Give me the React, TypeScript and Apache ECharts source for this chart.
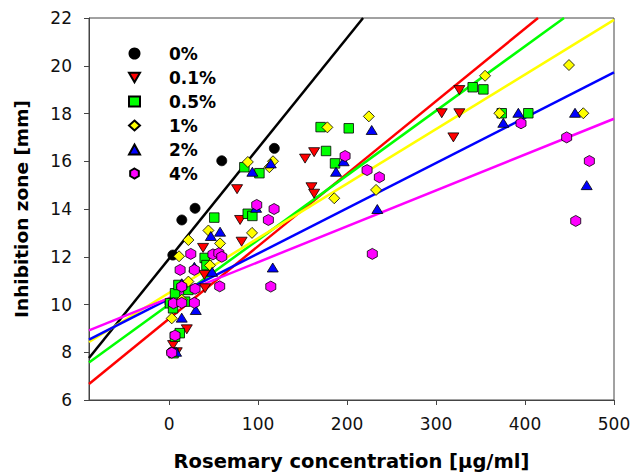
import React, { useEffect, useRef } from "react";
import * as echarts from "echarts";

// ---- data ----
const seriesNames = ["0%", "0.1%", "0.5%", "1%", "2%", "4%"];
const xTicks = [0, 100, 200, 300, 400, 500];

const conc0 = [[1, 10.06], [3, 8.0], [4.2, 12.07], [14.3, 13.54], [29.2, 14.03], [59.2, 16.02], [118.3, 16.54]];
const conc01 = [[4.5, 8.3], [8.6, 8.0], [19.9, 8.96], [40.4, 10.68], [39.7, 11.24], [38.2, 12.37], [76.4, 14.83], [79.8, 13.54], [81.5, 12.63], [152.8, 16.11], [163, 16.38], [160, 14.91], [163, 14.64], [306.4, 18.01], [326.2, 18.01], [326.2, 18.98], [319.5, 17.0]];
const conc05 = [[5, 7.96], [6.7, 8.65], [12, 8.8], [1, 10.05], [4.5, 9.84], [18, 10.12], [6.7, 10.47], [10.5, 10.82], [21.7, 10.61], [40, 11.95], [42, 11.65], [50.8, 13.64], [84.6, 15.75], [101.5, 15.5], [88.4, 13.8], [93.6, 13.71], [170.3, 17.43], [201.9, 17.38], [176.4, 16.43], [186.5, 15.91], [341.2, 19.1], [353.2, 19.01], [373.8, 18.01], [403.7, 18.01]];
const conc1 = [[3, 9.42], [14.2, 10.2], [21.7, 10.96], [11.2, 12.02], [21.7, 12.7], [46, 11.64], [44.2, 13.1], [57.3, 12.56], [88.5, 15.97], [93.2, 13.0], [112.7, 15.75], [116.8, 16.0], [177.9, 17.42], [185.6, 14.45], [224.5, 17.88], [232.6, 14.8], [355.1, 19.58], [371.2, 18.01], [449.4, 20.03], [465.5, 18.01]];
const conc2 = [[7.9, 8.02], [14.2, 9.45], [30, 9.77], [14.2, 10.89], [28.4, 11.58], [48.4, 11.37], [46.9, 12.87], [57.3, 13.05], [93.6, 15.56], [114.3, 15.91], [97.8, 14.05], [116.5, 11.55], [187.6, 15.56], [196.2, 16.0], [227.7, 17.31], [234, 14.0], [375.6, 17.61], [392.5, 18.03], [456.2, 18.03], [469.3, 15.0]];
const conc4 = [[3, 7.98], [6.7, 8.7], [4.9, 10.05], [14.2, 10.07], [28.4, 10.07], [14.2, 10.75], [29.2, 10.66], [12.4, 11.45], [28.4, 11.45], [24.4, 12.12], [49.3, 12.1], [55.9, 12.15], [59.2, 12.0], [56.9, 10.76], [98.5, 14.17], [118, 14.0], [111.6, 13.54], [114.3, 10.75], [197.8, 16.22], [222.5, 15.63], [236.3, 15.33], [228.4, 12.12], [395.5, 17.59], [446.8, 17.0], [472.3, 16.01], [457, 13.5]];

// regression lines (end points)
const fit0 = [[-90, 7.76], [218, 22]];
const fit01 = [[-90, 6.67], [414.6, 22]];
const fit05 = [[-90, 7.57], [443.8, 22]];
const fit1 = [[-90, 8.43], [500, 21.92]];
const fit2 = [[-90, 8.53], [500, 19.72]];
const fit4 = [[-90, 8.92], [500, 17.78]];

const pointSets = [conc0, conc01, conc05, conc1, conc2, conc4];
const fitSets = [fit0, fit01, fit05, fit1, fit2, fit4];

// ---- styles ----
const colors = ["#000000", "#ff0000", "#00ff00", "#ffff00", "#0000ff", "#ff00ff"];
const HEX = "path://M0,-1L0.866,-0.5L0.866,0.5L0,1L-0.866,0.5L-0.866,-0.5Z";
const TRI_DOWN = "path://M-1,-0.85L1,-0.85L0,0.85Z";
const symbols = ["circle", TRI_DOWN, "rect", "diamond", "triangle", HEX];
const symbolSizes: any[] = [10, [11, 9], 9.5, 11, [11, 9], [10, 11]];
const FONT = "DejaVu Sans";

export default function App() {
  const ref = useRef<HTMLDivElement>(null);
  useEffect(() => {
    if (!ref.current) return;
    const chart = echarts.init(ref.current, null, { renderer: "svg" });
    const lineSeries = fitSets.map((d, i) => ({
      type: "line",
      name: "fit " + seriesNames[i],
      data: d,
      showSymbol: false,
      symbol: "none",
      z: 2,
      lineStyle: { color: colors[i], width: 2.5 },
      itemStyle: { color: colors[i] },
    }));
    const scatterSeries = pointSets.map((d, i) => ({
      type: "scatter",
      name: seriesNames[i],
      data: d,
      symbol: symbols[i],
      symbolSize: symbolSizes[i],
      symbolKeepAspect: false,
      z: 3 + i,
      itemStyle: { color: colors[i], borderColor: "#000", borderWidth: 0.8, opacity: 1 },
    }));
    chart.setOption({
      animation: false,
      backgroundColor: "#fff",
      grid: {
        left: 89, right: 18, top: 18, bottom: 73,
        show: true, borderColor: "#444", borderWidth: 1, containLabel: false,
        outerBoundsMode: "none",
      },
      legend: {
        data: seriesNames,
        orient: "vertical",
        left: 128,
        top: 45,
        padding: 0,
        itemWidth: 11,
        itemHeight: 10,
        itemGap: 7,
        textStyle: { fontFamily: FONT, fontSize: 17, fontWeight: "bold", color: "#000", lineHeight: 13, padding: [0, 0, 0, 24] },
      },
      xAxis: {
        type: "value",
        min: -90,
        max: 500,
        name: "Rosemary concentration [µg/ml]",
        nameLocation: "middle",
        nameGap: 51,
        nameTextStyle: { fontFamily: FONT, fontSize: 19.5, fontWeight: "bold", color: "#000" },
        axisLine: { onZero: false, lineStyle: { color: "#444", width: 1 } },
        axisTick: { show: true, length: 5, inside: false, customValues: xTicks, lineStyle: { color: "#444" } },
        axisLabel: { customValues: xTicks, margin: 15, fontFamily: FONT, fontSize: 17, color: "#111" },
        splitLine: { show: false },
      },
      yAxis: {
        type: "value",
        min: 6,
        max: 22,
        interval: 2,
        name: "Inhibition zone [mm]",
        nameLocation: "middle",
        nameGap: 58,
        nameTextStyle: { fontFamily: FONT, fontSize: 18.5, fontWeight: "bold", color: "#000" },
        axisLine: { show: true, onZero: false, lineStyle: { color: "#444", width: 1 } },
        axisTick: { show: true, length: 5, inside: false, lineStyle: { color: "#444" } },
        axisLabel: { margin: 17, fontFamily: FONT, fontSize: 17, color: "#111" },
        splitLine: { show: false },
      },
      series: [...lineSeries, ...scatterSeries],
    });
    return () => chart.dispose();
  }, []);
  return <div ref={ref} style={{ position: "fixed", left: 0, top: 0, width: 632, height: 473 }} />;
}
